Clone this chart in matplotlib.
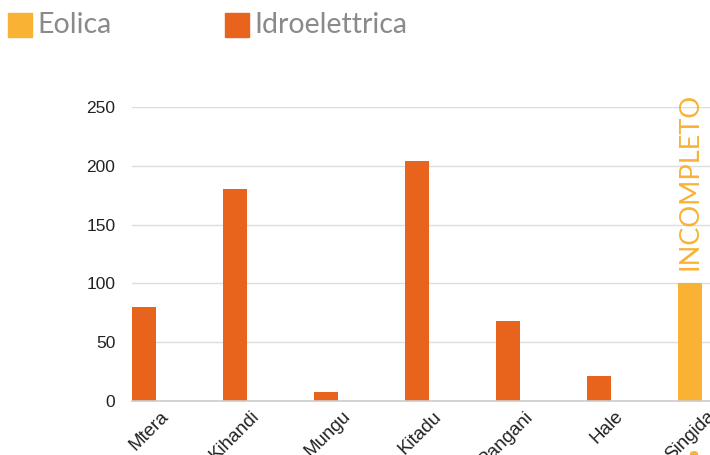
import matplotlib
matplotlib.use("Agg")
import matplotlib.pyplot as plt
from matplotlib.patches import Rectangle
import matplotlib.transforms as mtransforms

categories = ["Mtera", "Kihandi", "Mungu", "Kitadu", "Pangani", "Hale", "Singida"]
values = [80, 180, 8, 204, 68, 21, 100]
series_type = ["Idroelettrica"] * 6 + ["Eolica"]
y_ticks = [0, 50, 100, 150, 200, 250]
legend_labels = ["Eolica", "Idroelettrica"]

colors = {"Eolica": "#F9B233", "Idroelettrica": "#E8631C"}

W, H = 710, 455
fig = plt.figure(figsize=(W / 100, H / 100), dpi=100)

# axes geometry in pixels
ax_left, ax_right = 132, 712
y0_px, y250_px = 401, 107
px_per_unit = 91.0
bar_w = 24 / px_per_unit
x_min = -bar_w / 2
x_max = x_min + (ax_right - ax_left) / px_per_unit

ax = fig.add_axes([ax_left / W, 1 - y0_px / H, (ax_right - ax_left) / W, (y0_px - y250_px) / H])
ax.set_xlim(x_min, x_max)
ax.set_ylim(0, 250)

xs = list(range(len(categories)))
ax.bar(xs, values, width=bar_w, color=[colors[s] for s in series_type], zorder=3)

ax.set_yticks(y_ticks)
ax.set_yticklabels([str(t) for t in y_ticks], fontsize=12.5, color="#222222", family="Liberation Sans")
ax.yaxis.grid(True, color="#dddddd", linewidth=1, zorder=0)
ax.tick_params(axis="y", length=0, pad=12)
ax.tick_params(axis="x", length=0, pad=5)
for s in ["top", "right", "left"]:
    ax.spines[s].set_visible(False)
ax.spines["bottom"].set_color("#cccccc")
ax.spines["bottom"].set_linewidth(1.2)
ax.spines["bottom"].set_zorder(4)

ax.set_xticks(xs)
ax.set_xticklabels(categories, rotation=45, ha="right", va="top", rotation_mode="anchor",
                   fontsize=13.5, color="#222222", family="Liberation Sans")
offset = mtransforms.ScaledTranslation(16 / 100, 0, fig.dpi_scale_trans)
for lab in ax.get_xticklabels():
    lab.set_transform(lab.get_transform() + offset)

# INCOMPLETO label above Singida bar
ax.text(6.0, 111, "INCOMPLETO", rotation=90, ha="center", va="bottom",
        fontsize=19.5, color="#F9B233", family="Lato", zorder=5)

# small marker partly visible at the bottom-right corner
fig.patches.append(plt.Circle((694 / W, 1 - 454 / H), 3.5 / W, transform=fig.transFigure,
                              color="#F9B233", figure=fig))

# legend at top
leg_items = [(8, legend_labels[0]), (225, legend_labels[1])]
for x_px, lab in leg_items:
    fig.patches.append(Rectangle((x_px / W, 1 - 37 / H), 24 / W, 24 / H,
                                 transform=fig.transFigure, color=colors[lab], figure=fig))
    fig.text((x_px + 29) / W, 1 - 25 / H, lab, ha="left", va="center",
             fontsize=20.5, color="#8a8a8a", family="Lato")

fig.savefig("out.png", dpi=100)
